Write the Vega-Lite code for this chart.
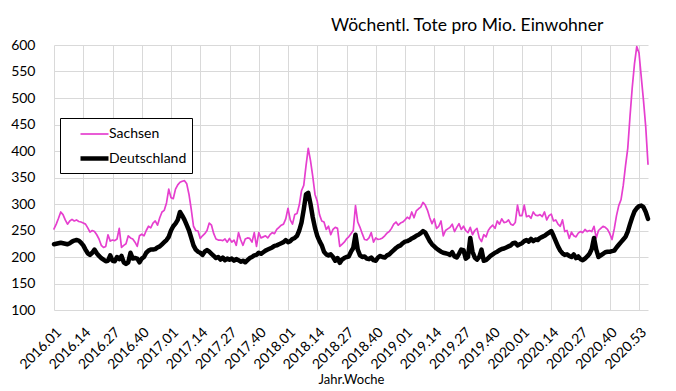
{
  "$schema": "https://vega.github.io/schema/vega-lite/v6.json",
  "width": 594,
  "height": 265,
  "autosize": {"type": "none"},
  "padding": {"left": 54, "top": 45, "right": 28, "bottom": 81},
  "background": "white",
  "config": {"view": {"stroke": null}, "font": "Lato"},
  "title": {"text": "Wöchentl. Tote pro Mio. Einwohner", "anchor": "end", "dx": -47, "fontSize": 17.5, "fontWeight": "normal", "font": "Lato", "color": "#000000", "offset": 4},
  "datasets": {
    "weeks": [
      {"w":"2016.01","Sachsen":253,"Deutschland":224},{"w":"2016.02","Sachsen":262,"Deutschland":225},{"w":"2016.03","Sachsen":273,"Deutschland":226},{"w":"2016.04","Sachsen":285,"Deutschland":227},{"w":"2016.05","Sachsen":280,"Deutschland":226},{"w":"2016.06","Sachsen":270,"Deutschland":225},{"w":"2016.07","Sachsen":262,"Deutschland":224},{"w":"2016.08","Sachsen":268,"Deutschland":226},{"w":"2016.09","Sachsen":271,"Deutschland":229},{"w":"2016.10","Sachsen":268,"Deutschland":231},
      {"w":"2016.11","Sachsen":270,"Deutschland":232},{"w":"2016.12","Sachsen":267,"Deutschland":231},{"w":"2016.13","Sachsen":266,"Deutschland":227},{"w":"2016.14","Sachsen":264,"Deutschland":222},{"w":"2016.15","Sachsen":262,"Deutschland":214},{"w":"2016.16","Sachsen":255,"Deutschland":207},{"w":"2016.17","Sachsen":247,"Deutschland":204},{"w":"2016.18","Sachsen":250,"Deutschland":208},{"w":"2016.19","Sachsen":248,"Deutschland":214},{"w":"2016.20","Sachsen":242,"Deutschland":207},
      {"w":"2016.21","Sachsen":234,"Deutschland":202},{"w":"2016.22","Sachsen":222,"Deutschland":198},{"w":"2016.23","Sachsen":218,"Deutschland":195},{"w":"2016.24","Sachsen":220,"Deutschland":192},{"w":"2016.25","Sachsen":242,"Deutschland":193},{"w":"2016.26","Sachsen":230,"Deutschland":203},{"w":"2016.27","Sachsen":232,"Deutschland":193},{"w":"2016.28","Sachsen":231,"Deutschland":192},{"w":"2016.29","Sachsen":234,"Deutschland":200},{"w":"2016.30","Sachsen":254,"Deutschland":196},
      {"w":"2016.31","Sachsen":218,"Deutschland":202},{"w":"2016.32","Sachsen":222,"Deutschland":190},{"w":"2016.33","Sachsen":225,"Deutschland":187},{"w":"2016.34","Sachsen":240,"Deutschland":190},{"w":"2016.35","Sachsen":236,"Deutschland":208},{"w":"2016.36","Sachsen":234,"Deutschland":197},{"w":"2016.37","Sachsen":228,"Deutschland":198},{"w":"2016.38","Sachsen":220,"Deutschland":197},{"w":"2016.39","Sachsen":240,"Deutschland":190},{"w":"2016.40","Sachsen":243,"Deutschland":197},
      {"w":"2016.41","Sachsen":240,"Deutschland":200},{"w":"2016.42","Sachsen":250,"Deutschland":208},{"w":"2016.43","Sachsen":258,"Deutschland":212},{"w":"2016.44","Sachsen":255,"Deutschland":214},{"w":"2016.45","Sachsen":264,"Deutschland":214},{"w":"2016.46","Sachsen":268,"Deutschland":215},{"w":"2016.47","Sachsen":260,"Deutschland":218},{"w":"2016.48","Sachsen":274,"Deutschland":220},{"w":"2016.49","Sachsen":285,"Deutschland":224},{"w":"2016.50","Sachsen":288,"Deutschland":228},
      {"w":"2016.51","Sachsen":302,"Deutschland":232},{"w":"2016.52","Sachsen":328,"Deutschland":238},
      {"w":"2017.01","Sachsen":312,"Deutschland":250},{"w":"2017.02","Sachsen":310,"Deutschland":258},{"w":"2017.03","Sachsen":328,"Deutschland":263},{"w":"2017.04","Sachsen":336,"Deutschland":270},{"w":"2017.05","Sachsen":341,"Deutschland":285},{"w":"2017.06","Sachsen":343,"Deutschland":278},{"w":"2017.07","Sachsen":344,"Deutschland":270},{"w":"2017.08","Sachsen":338,"Deutschland":260},
      {"w":"2017.09","Sachsen":318,"Deutschland":250},{"w":"2017.10","Sachsen":290,"Deutschland":236},{"w":"2017.11","Sachsen":258,"Deutschland":222},{"w":"2017.12","Sachsen":250,"Deutschland":214},{"w":"2017.13","Sachsen":249,"Deutschland":210},{"w":"2017.14","Sachsen":235,"Deutschland":208},{"w":"2017.15","Sachsen":240,"Deutschland":204},{"w":"2017.16","Sachsen":244,"Deutschland":210},{"w":"2017.17","Sachsen":250,"Deutschland":213},{"w":"2017.18","Sachsen":264,"Deutschland":210},
      {"w":"2017.19","Sachsen":260,"Deutschland":206},{"w":"2017.20","Sachsen":244,"Deutschland":202},{"w":"2017.21","Sachsen":234,"Deutschland":198},{"w":"2017.22","Sachsen":232,"Deutschland":200},{"w":"2017.23","Sachsen":232,"Deutschland":195},{"w":"2017.24","Sachsen":231,"Deutschland":199},{"w":"2017.25","Sachsen":234,"Deutschland":194},{"w":"2017.26","Sachsen":228,"Deutschland":197},{"w":"2017.27","Sachsen":235,"Deutschland":195},{"w":"2017.28","Sachsen":228,"Deutschland":197},
      {"w":"2017.29","Sachsen":232,"Deutschland":193},{"w":"2017.30","Sachsen":222,"Deutschland":196},{"w":"2017.31","Sachsen":246,"Deutschland":194},{"w":"2017.32","Sachsen":232,"Deutschland":191},{"w":"2017.33","Sachsen":222,"Deutschland":193},{"w":"2017.34","Sachsen":234,"Deutschland":190},{"w":"2017.35","Sachsen":236,"Deutschland":194},{"w":"2017.36","Sachsen":235,"Deutschland":198},{"w":"2017.37","Sachsen":228,"Deutschland":200},{"w":"2017.38","Sachsen":246,"Deutschland":203},
      {"w":"2017.39","Sachsen":220,"Deutschland":204},{"w":"2017.40","Sachsen":246,"Deutschland":208},{"w":"2017.41","Sachsen":236,"Deutschland":206},{"w":"2017.42","Sachsen":238,"Deutschland":209},{"w":"2017.43","Sachsen":240,"Deutschland":212},{"w":"2017.44","Sachsen":236,"Deutschland":214},{"w":"2017.45","Sachsen":242,"Deutschland":216},{"w":"2017.46","Sachsen":246,"Deutschland":218},{"w":"2017.47","Sachsen":244,"Deutschland":221},{"w":"2017.48","Sachsen":252,"Deutschland":222},
      {"w":"2017.49","Sachsen":256,"Deutschland":224},{"w":"2017.50","Sachsen":260,"Deutschland":226},{"w":"2017.51","Sachsen":262,"Deutschland":228},{"w":"2017.52","Sachsen":272,"Deutschland":232},
      {"w":"2018.01","Sachsen":292,"Deutschland":228},{"w":"2018.02","Sachsen":270,"Deutschland":230},{"w":"2018.03","Sachsen":262,"Deutschland":234},{"w":"2018.04","Sachsen":280,"Deutschland":236},{"w":"2018.05","Sachsen":282,"Deutschland":240},{"w":"2018.06","Sachsen":298,"Deutschland":250},
      {"w":"2018.07","Sachsen":325,"Deutschland":265},{"w":"2018.08","Sachsen":335,"Deutschland":290},{"w":"2018.09","Sachsen":372,"Deutschland":318},{"w":"2018.10","Sachsen":405,"Deutschland":321},{"w":"2018.11","Sachsen":382,"Deutschland":300},{"w":"2018.12","Sachsen":352,"Deutschland":275},{"w":"2018.13","Sachsen":318,"Deutschland":255},{"w":"2018.14","Sachsen":305,"Deutschland":240},{"w":"2018.15","Sachsen":280,"Deutschland":230},{"w":"2018.16","Sachsen":268,"Deutschland":222},
      {"w":"2018.17","Sachsen":266,"Deutschland":210},{"w":"2018.18","Sachsen":252,"Deutschland":205},{"w":"2018.19","Sachsen":258,"Deutschland":203},{"w":"2018.20","Sachsen":242,"Deutschland":205},{"w":"2018.21","Sachsen":252,"Deutschland":200},{"w":"2018.22","Sachsen":256,"Deutschland":193},{"w":"2018.23","Sachsen":254,"Deutschland":198},{"w":"2018.24","Sachsen":220,"Deutschland":189},{"w":"2018.25","Sachsen":224,"Deutschland":195},{"w":"2018.26","Sachsen":228,"Deutschland":198},
      {"w":"2018.27","Sachsen":234,"Deutschland":200},{"w":"2018.28","Sachsen":238,"Deutschland":201},{"w":"2018.29","Sachsen":244,"Deutschland":210},{"w":"2018.30","Sachsen":250,"Deutschland":217},{"w":"2018.31","Sachsen":297,"Deutschland":242},{"w":"2018.32","Sachsen":266,"Deutschland":214},{"w":"2018.33","Sachsen":256,"Deutschland":203},{"w":"2018.34","Sachsen":244,"Deutschland":200},{"w":"2018.35","Sachsen":233,"Deutschland":201},{"w":"2018.36","Sachsen":232,"Deutschland":197},
      {"w":"2018.37","Sachsen":236,"Deutschland":196},{"w":"2018.38","Sachsen":246,"Deutschland":199},{"w":"2018.39","Sachsen":228,"Deutschland":194},{"w":"2018.40","Sachsen":236,"Deutschland":193},{"w":"2018.41","Sachsen":233,"Deutschland":199},{"w":"2018.42","Sachsen":234,"Deutschland":202},{"w":"2018.43","Sachsen":236,"Deutschland":200},{"w":"2018.44","Sachsen":240,"Deutschland":199},{"w":"2018.45","Sachsen":245,"Deutschland":203},{"w":"2018.46","Sachsen":248,"Deutschland":205},
      {"w":"2018.47","Sachsen":254,"Deutschland":209},{"w":"2018.48","Sachsen":262,"Deutschland":213},{"w":"2018.49","Sachsen":266,"Deutschland":217},{"w":"2018.50","Sachsen":260,"Deutschland":220},{"w":"2018.51","Sachsen":264,"Deutschland":222},{"w":"2018.52","Sachsen":266,"Deutschland":226},
      {"w":"2019.01","Sachsen":270,"Deutschland":229},{"w":"2019.02","Sachsen":275,"Deutschland":230},{"w":"2019.03","Sachsen":272,"Deutschland":232},{"w":"2019.04","Sachsen":285,"Deutschland":235},
      {"w":"2019.05","Sachsen":274,"Deutschland":237},{"w":"2019.06","Sachsen":287,"Deutschland":240},{"w":"2019.07","Sachsen":291,"Deutschland":242},{"w":"2019.08","Sachsen":294,"Deutschland":245},{"w":"2019.09","Sachsen":303,"Deutschland":249},{"w":"2019.10","Sachsen":298,"Deutschland":246},{"w":"2019.11","Sachsen":288,"Deutschland":238},{"w":"2019.12","Sachsen":274,"Deutschland":230},{"w":"2019.13","Sachsen":263,"Deutschland":224},{"w":"2019.14","Sachsen":272,"Deutschland":220},
      {"w":"2019.15","Sachsen":254,"Deutschland":216},{"w":"2019.16","Sachsen":258,"Deutschland":213},{"w":"2019.17","Sachsen":268,"Deutschland":210},{"w":"2019.18","Sachsen":240,"Deutschland":208},{"w":"2019.19","Sachsen":250,"Deutschland":207},{"w":"2019.20","Sachsen":253,"Deutschland":206},{"w":"2019.21","Sachsen":256,"Deutschland":204},{"w":"2019.22","Sachsen":262,"Deutschland":209},{"w":"2019.23","Sachsen":248,"Deutschland":201},{"w":"2019.24","Sachsen":256,"Deutschland":199},
      {"w":"2019.25","Sachsen":263,"Deutschland":206},{"w":"2019.26","Sachsen":252,"Deutschland":214},{"w":"2019.27","Sachsen":258,"Deutschland":213},{"w":"2019.28","Sachsen":250,"Deutschland":197},{"w":"2019.29","Sachsen":246,"Deutschland":200},{"w":"2019.30","Sachsen":256,"Deutschland":236},{"w":"2019.31","Sachsen":242,"Deutschland":210},{"w":"2019.32","Sachsen":250,"Deutschland":199},{"w":"2019.33","Sachsen":254,"Deutschland":195},{"w":"2019.34","Sachsen":236,"Deutschland":200},
      {"w":"2019.35","Sachsen":229,"Deutschland":214},{"w":"2019.36","Sachsen":242,"Deutschland":193},{"w":"2019.37","Sachsen":238,"Deutschland":194},{"w":"2019.38","Sachsen":250,"Deutschland":198},{"w":"2019.39","Sachsen":256,"Deutschland":202},{"w":"2019.40","Sachsen":260,"Deutschland":205},{"w":"2019.41","Sachsen":254,"Deutschland":208},{"w":"2019.42","Sachsen":268,"Deutschland":210},{"w":"2019.43","Sachsen":262,"Deutschland":213},{"w":"2019.44","Sachsen":272,"Deutschland":215},
      {"w":"2019.45","Sachsen":265,"Deutschland":216},{"w":"2019.46","Sachsen":266,"Deutschland":218},{"w":"2019.47","Sachsen":270,"Deutschland":220},{"w":"2019.48","Sachsen":262,"Deutschland":222},{"w":"2019.49","Sachsen":260,"Deutschland":226},{"w":"2019.50","Sachsen":265,"Deutschland":227},{"w":"2019.51","Sachsen":298,"Deutschland":222},{"w":"2019.52","Sachsen":278,"Deutschland":224},
      {"w":"2020.01","Sachsen":278,"Deutschland":226},{"w":"2020.02","Sachsen":298,"Deutschland":230},
      {"w":"2020.03","Sachsen":276,"Deutschland":232},{"w":"2020.04","Sachsen":278,"Deutschland":229},{"w":"2020.05","Sachsen":273,"Deutschland":234},{"w":"2020.06","Sachsen":285,"Deutschland":230},{"w":"2020.07","Sachsen":279,"Deutschland":233},{"w":"2020.08","Sachsen":278,"Deutschland":232},{"w":"2020.09","Sachsen":280,"Deutschland":236},{"w":"2020.10","Sachsen":276,"Deutschland":238},{"w":"2020.11","Sachsen":285,"Deutschland":240},{"w":"2020.12","Sachsen":270,"Deutschland":243},
      {"w":"2020.13","Sachsen":278,"Deutschland":246},{"w":"2020.14","Sachsen":281,"Deutschland":249},{"w":"2020.15","Sachsen":268,"Deutschland":240},{"w":"2020.16","Sachsen":270,"Deutschland":230},{"w":"2020.17","Sachsen":262,"Deutschland":220},{"w":"2020.18","Sachsen":258,"Deutschland":212},{"w":"2020.19","Sachsen":270,"Deutschland":207},{"w":"2020.20","Sachsen":248,"Deutschland":204},{"w":"2020.21","Sachsen":250,"Deutschland":205},{"w":"2020.22","Sachsen":235,"Deutschland":202},
      {"w":"2020.23","Sachsen":247,"Deutschland":200},{"w":"2020.24","Sachsen":240,"Deutschland":205},{"w":"2020.25","Sachsen":238,"Deutschland":198},{"w":"2020.26","Sachsen":245,"Deutschland":201},{"w":"2020.27","Sachsen":248,"Deutschland":196},{"w":"2020.28","Sachsen":246,"Deutschland":194},{"w":"2020.29","Sachsen":252,"Deutschland":197},{"w":"2020.30","Sachsen":248,"Deutschland":201},{"w":"2020.31","Sachsen":250,"Deutschland":206},{"w":"2020.32","Sachsen":248,"Deutschland":215},
      {"w":"2020.33","Sachsen":258,"Deutschland":236},{"w":"2020.34","Sachsen":236,"Deutschland":214},{"w":"2020.35","Sachsen":250,"Deutschland":200},{"w":"2020.36","Sachsen":254,"Deutschland":203},{"w":"2020.37","Sachsen":258,"Deutschland":206},{"w":"2020.38","Sachsen":256,"Deutschland":209},{"w":"2020.39","Sachsen":252,"Deutschland":210},{"w":"2020.40","Sachsen":244,"Deutschland":210},{"w":"2020.41","Sachsen":233,"Deutschland":211},{"w":"2020.42","Sachsen":253,"Deutschland":212},
      {"w":"2020.43","Sachsen":278,"Deutschland":218},{"w":"2020.44","Sachsen":297,"Deutschland":223},{"w":"2020.45","Sachsen":308,"Deutschland":228},{"w":"2020.46","Sachsen":335,"Deutschland":233},{"w":"2020.47","Sachsen":372,"Deutschland":238},{"w":"2020.48","Sachsen":405,"Deutschland":248},{"w":"2020.49","Sachsen":465,"Deutschland":262},{"w":"2020.50","Sachsen":520,"Deutschland":275},{"w":"2020.51","Sachsen":565,"Deutschland":286},{"w":"2020.52","Sachsen":597,"Deutschland":292},
      {"w":"2020.53","Sachsen":585,"Deutschland":296},
      {"w":"2021.01","Sachsen":540,"Deutschland":297},{"w":"2021.02","Sachsen":495,"Deutschland":294},{"w":"2021.03","Sachsen":445,"Deutschland":285},{"w":"2021.04","Sachsen":375,"Deutschland":272}
    ]
  },
  "data": {"name": "weeks"},
  "transform": [{"fold": ["Sachsen", "Deutschland"], "as": ["series", "value"]}],
  "mark": {"type": "line", "strokeJoin": "round", "strokeCap": "round"},
  "encoding": {
    "x": {
      "field": "w",
      "type": "ordinal",
      "sort": null,
      "scale": {"type": "point", "padding": 0},
      "axis": {
        "values": ["2016.01","2016.14","2016.27","2016.40","2017.01","2017.14","2017.27","2017.40","2018.01","2018.14","2018.27","2018.40","2019.01","2019.14","2019.27","2019.40","2020.01","2020.14","2020.27","2020.40","2020.53"],
        "labelAngle": -45,
        "labelFontSize": 14,
        "labelFont": "Lato",
        "labelColor": "#000000",
        "labelPadding": 15,
        "grid": true,
        "gridColor": "#d9d9d9",
        "domain": false,
        "ticks": false,
        "title": "Jahr.Woche",
        "titleFont": "Lato",
        "titleFontSize": 13,
        "titleFontWeight": "normal",
        "titleColor": "#000000",
        "titlePadding": 2
      }
    },
    "y": {
      "field": "value",
      "type": "quantitative",
      "scale": {"domain": [100, 600], "nice": false, "zero": false},
      "axis": {
        "values": [100,150,200,250,300,350,400,450,500,550,600],
        "title": null,
        "grid": true,
        "gridColor": "#d9d9d9",
        "domain": false,
        "ticks": false,
        "labelFont": "Lato",
        "labelFontSize": 14,
        "labelColor": "#000000",
        "labelPadding": 19
      }
    },
    "color": {
      "field": "series",
      "type": "nominal",
      "scale": {"domain": ["Sachsen", "Deutschland"], "range": ["#e63fcf", "#000000"]},
      "legend": {
        "orient": "none",
        "legendX": 6,
        "legendY": 73,
        "title": null,
        "direction": "vertical",
        "strokeColor": "#000000",
        "fillColor": "#ffffff",
        "padding": 5,
        "symbolType": "M-1.4,0H1.4",
        "symbolSize": 400,
        "symbolOffset": 17,
        "labelFont": "Lato",
        "labelFontSize": 14,
        "labelColor": "#000000",
        "labelOffset": 2,
        "rowPadding": 5
      }
    },
    "strokeWidth": {
      "field": "series",
      "type": "nominal",
      "scale": {"domain": ["Sachsen", "Deutschland"], "range": [1.7, 4.5]},
      "legend": {
        "orient": "none",
        "legendX": 6,
        "legendY": 73,
        "title": null,
        "direction": "vertical",
        "strokeColor": "#000000",
        "fillColor": "#ffffff",
        "padding": 5,
        "symbolType": "M-1.4,0H1.4",
        "symbolSize": 400,
        "symbolOffset": 17,
        "labelFont": "Lato",
        "labelFontSize": 14,
        "labelColor": "#000000",
        "labelOffset": 2,
        "rowPadding": 5
      }
    }
  }
}
